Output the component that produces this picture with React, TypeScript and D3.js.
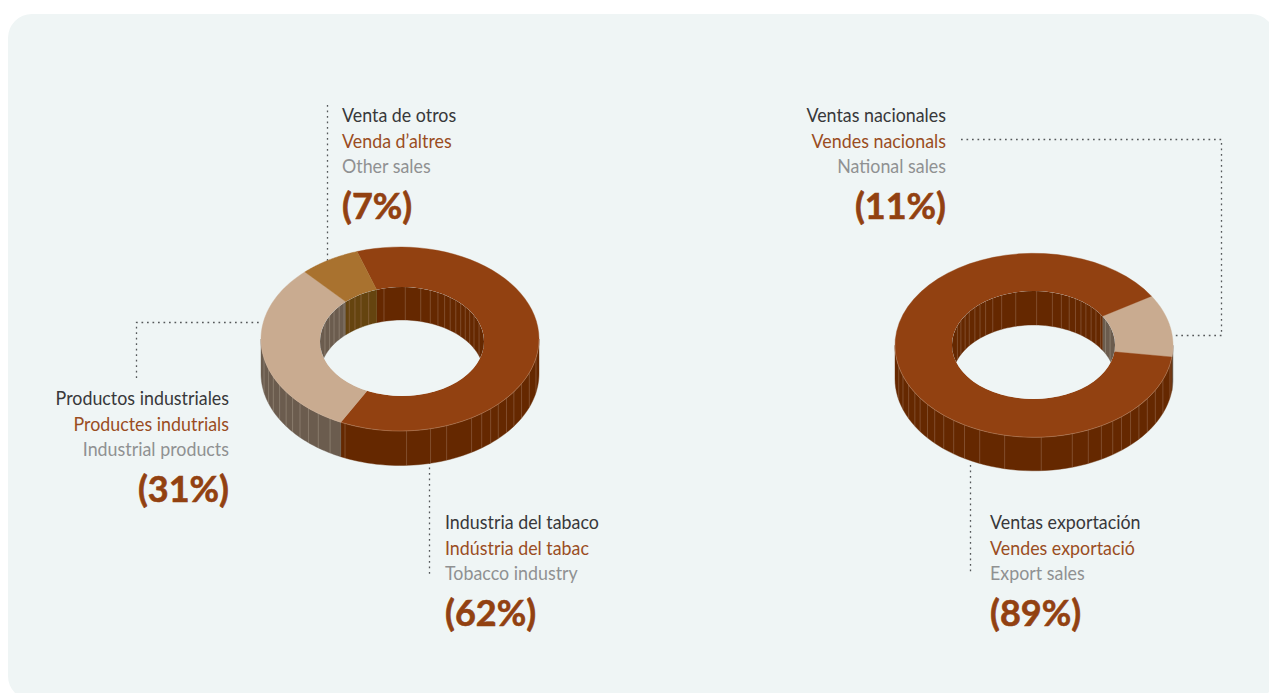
import React from "react";
import * as d3 from "d3";

const leftNames = ["Industria del tabaco", "Productos industriales", "Venta de otros"];
const leftNamesCa = ["Indústria del tabac", "Productes indutrials", "Venda d’altres"];
const leftNamesEn = ["Tobacco industry", "Industrial products", "Other sales"];
const leftValues = [62, 31, 7];
const rightNames = ["Ventas nacionales", "Ventas exportación"];
const rightNamesCa = ["Vendes nacionals", "Vendes exportació"];
const rightNamesEn = ["National sales", "Export sales"];
const rightValues = [11, 89];

const BROWN = "#924111";
const TAN = "#c9ab90";
const GOLD = "#a9722f";
const wallColor: Record<string, string> = { [BROWN]: "#652800", [TAN]: "#6b5c4e", [GOLD]: "#65440f" };
const rad = Math.PI / 180;

// facet edges, in degrees from the front (outer) and back (inner) of each ring
const leftOuterFacets = [-78, -68.5, -61, -55, -50, -45, -40.7, -36, -31, -19.6, -12.7, -2.7, 23.3, 30.2, 36, 41.2, 46, 50.6, 55, 60, 65.7, 71, 78];
const leftInnerFacets = [-70, -62, -56, -50, -45, -40, -35, -30, -24, -12.7, 2.3, 13.2, 20.2, 26, 31.3, 36, 41, 45.7, 50.5, 55.6, 61.4, 70];
const rightOuterFacets = [-78, -68, -60.8, -54.6, -49, -44, -39, -34.5, -29, -23, -16, -3, 12.2, 23, 30, 35.3, 40.5, 45.6, 50, 55, 59, 64.4, 70.5, 76.7];
const rightInnerFacets = [-69, -63, -57, -52, -46, -41, -36, -30, -23, -12.6, 2.2, 13.4, 20, 26, 31, 35.6, 40, 45, 50, 55.5, 62, 70];

type Ring = {
  cx: number; cy: number; rx: number; ry: number;
  icx: number; icy: number; irx: number; iry: number;
  depth: number; innerDepth: number;
};
const line = d3.line<[number, number]>();

function Donut({ id, ring, values, colors, start, outerFacets, innerFacets }: {
  id: string; ring: Ring; values: number[]; colors: string[]; start: number; outerFacets: number[]; innerFacets: number[];
}) {
  const { cx, cy, rx, ry, icx, icy, irx, iry, depth, innerDepth } = ring;
  const outer = (t: number, dy = 0): [number, number] => [cx + rx * Math.sin(t), cy - ry * Math.cos(t) + dy];
  const inner = (t: number, dy = 0): [number, number] => [icx + irx * Math.sin(t), icy - iry * Math.cos(t) + dy];
  const arcs = d3.pie<number>().sort(null).startAngle(start * rad).endAngle((start + 360) * rad)(values);
  const steps = (a: number, b: number) => d3.range(0, 61).map((i) => a + ((b - a) * i) / 60);
  const colorAt = (t: number) => {
    const a = ((t - start * rad) % (2 * Math.PI) + 2 * Math.PI) % (2 * Math.PI) + start * rad;
    const k = arcs.findIndex((s) => a >= s.startAngle && a < s.endAngle);
    return colors[k < 0 ? 0 : k];
  };
  const clip = (a: number, b: number, lo: number, hi: number): [number, number] | null => {
    const best: [number, number][] = [];
    for (const s of [-2 * Math.PI, 0, 2 * Math.PI]) {
      const l = Math.max(a + s, lo), h = Math.min(b + s, hi);
      if (h > l) best.push([l, h]);
    }
    return best[0] ?? null;
  };
  return (
    <g>
      <clipPath id={id}>
        <path d={line(steps(0, 2 * Math.PI).map((t) => inner(t)))! + "Z"} />
      </clipPath>
      {/* outer side wall */}
      {arcs.map((s, i) => {
        const c = clip(s.startAngle, s.endAngle, 90 * rad, 270 * rad);
        if (!c) return null;
        const ts = steps(c[0], c[1]);
        return <path key={i} d={line([...ts.map((t) => outer(t)), ...ts.slice().reverse().map((t) => outer(t, depth))])! + "Z"} fill={wallColor[colors[i]]} stroke={wallColor[colors[i]]} strokeWidth={0.4} />;
      })}
      {outerFacets.map((f, i) => {
        const t = (180 + f) * rad;
        const base = colorAt(t);
        return <line key={i} x1={outer(t)[0]} x2={outer(t)[0]} y1={outer(t)[1]} y2={outer(t, depth)[1]} stroke={base === TAN ? "#b3a595" : "#a9826a"} strokeOpacity={0.6} strokeWidth={0.7} />;
      })}
      {/* top face */}
      {arcs.map((s, i) => {
        const ts = steps(s.startAngle, s.endAngle);
        return <path key={i} d={line([...ts.map((t) => outer(t)), ...ts.slice().reverse().map((t) => inner(t))])! + "Z"} fill={colors[i]} stroke={colors[i]} strokeWidth={0.4} />;
      })}
      <path d={line(steps(90 * rad, 270 * rad).map((t) => outer(t)))!} fill="none" stroke="#d8b9a0" strokeOpacity={0.5} strokeWidth={0.6} />
      {/* hole: far wall seen through the opening */}
      <path d={line(steps(0, 2 * Math.PI).map((t) => inner(t)))! + "Z"} fill="#eff5f5" />
      <g clipPath={`url(#${id})`}>
        {arcs.map((s, i) => {
          const c = clip(s.startAngle, s.endAngle, -90 * rad, 90 * rad);
          if (!c) return null;
          const ts = steps(c[0], c[1]);
          return <path key={i} d={line([...ts.map((t) => inner(t)), ...ts.slice().reverse().map((t) => inner(t, innerDepth))])! + "Z"} fill={wallColor[colors[i]]} stroke={wallColor[colors[i]]} strokeWidth={0.4} />;
        })}
        {innerFacets.map((f, i) => {
          const t = f * rad;
          const base = colorAt(t);
          return <line key={i} x1={inner(t)[0]} x2={inner(t)[0]} y1={inner(t)[1]} y2={inner(t, innerDepth)[1]} stroke={base === TAN ? "#b3a595" : "#a9826a"} strokeOpacity={0.6} strokeWidth={0.7} />;
        })}
      </g>
    </g>
  );
}

function Label({ x, y, anchor, names, pct }: { x: number; y: number; anchor: "start" | "end"; names: string[]; pct: number }) {
  const font = "Lato, sans-serif";
  const cols = ["#38383a", "#9a4d1f", "#8f9192"];
  const off = [0, 25.7, 51];
  return (
    <g textAnchor={anchor} fontFamily={font}>
      <g transform={`translate(${x} 0) scale(0.95 1)`}>
        {names.map((n, i) => (
          <text key={i} x={0} y={y + off[i]} fontSize={18.8} fill={cols[i]}>{n}</text>
        ))}
      </g>
      <text x={x} y={y + 97} fontSize={36} fontWeight={700} fill={BROWN} stroke={BROWN} strokeWidth={0.6}>({pct}%)</text>
    </g>
  );
}

const dots = { stroke: "#55585a", strokeWidth: 1.3, strokeDasharray: "1.7 3.8", fill: "none" };

const leftRing: Ring = { cx: 400, cy: 339, rx: 139, ry: 92, icx: 402, icy: 341.5, irx: 82, iry: 54.5, depth: 34.5, innerDepth: 33 };
const rightRing: Ring = { cx: 1034, cy: 345.3, rx: 139, ry: 92, icx: 1033.5, icy: 345, irx: 81.5, iry: 54, depth: 33.5, innerDepth: 34 };

export default function App() {
  return (
    <svg width={1269} height={693} style={{ position: "absolute", left: 0, top: 0 }}>
      <rect x={0} y={0} width={1269} height={693} fill="#fff" />
      <rect x={8} y={14} width={1267} height={686} rx={24} fill="#eff5f5" />
      <path d="M327.5 105V262M136.5 378V322.5H262M429.5 462V574M961 139.5H1221.5V335.5H1174M970.5 465V572" {...dots} />
      <Donut id="ringL" ring={leftRing} values={leftValues} colors={[BROWN, TAN, GOLD]} start={-18} outerFacets={leftOuterFacets} innerFacets={leftInnerFacets} />
      <Donut id="ringR" ring={rightRing} values={rightValues} colors={[TAN, BROWN]} start={57.7} outerFacets={rightOuterFacets} innerFacets={rightInnerFacets} />
      <Label x={342} y={122} anchor="start" names={[leftNames[2], leftNamesCa[2], leftNamesEn[2]]} pct={leftValues[2]} />
      <Label x={229} y={405} anchor="end" names={[leftNames[1], leftNamesCa[1], leftNamesEn[1]]} pct={leftValues[1]} />
      <Label x={445} y={529} anchor="start" names={[leftNames[0], leftNamesCa[0], leftNamesEn[0]]} pct={leftValues[0]} />
      <Label x={946} y={122} anchor="end" names={[rightNames[0], rightNamesCa[0], rightNamesEn[0]]} pct={rightValues[0]} />
      <Label x={990} y={529} anchor="start" names={[rightNames[1], rightNamesCa[1], rightNamesEn[1]]} pct={rightValues[1]} />
    </svg>
  );
}
